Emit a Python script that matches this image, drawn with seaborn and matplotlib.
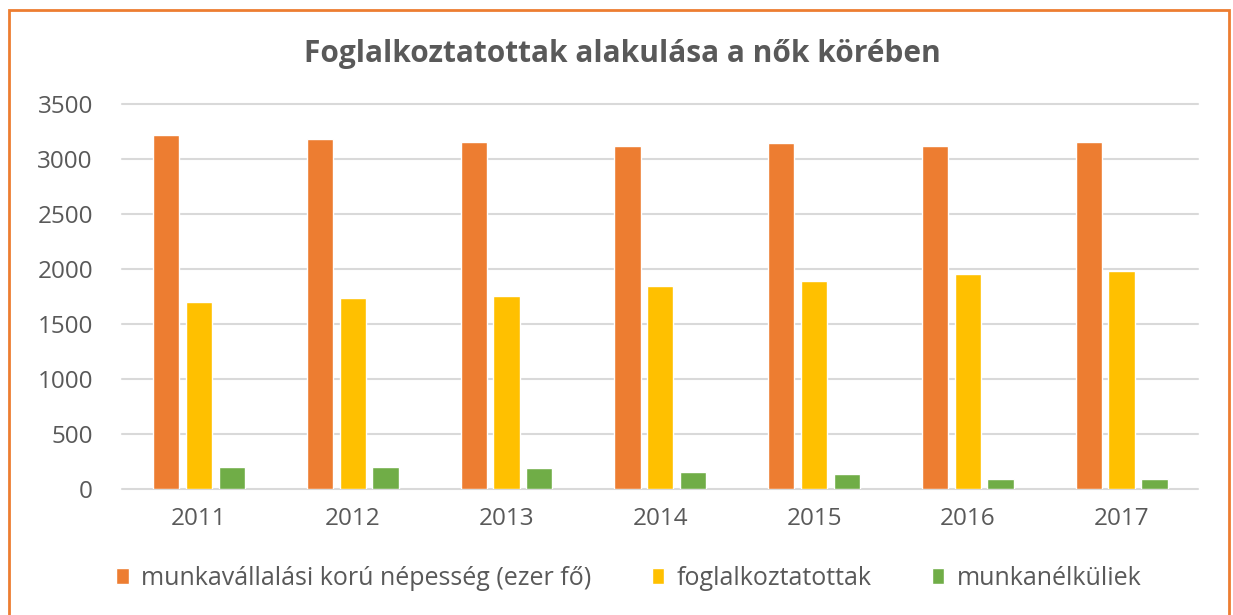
import pandas as pd
import matplotlib.pyplot as plt
import seaborn as sns
from matplotlib.patches import Rectangle

# Chart data (ezer fő)
years = ["2011", "2012", "2013", "2014", "2015", "2016", "2017"]
nepesseg = [3218, 3182, 3157, 3121, 3145, 3121, 3157]
foglalkoztatottak = [1696, 1733, 1757, 1848, 1894, 1954, 1978]
munkanelkuliek = [200, 200, 187, 157, 139, 91, 91]

series_names = ["munkavállalási korú népesség (ezer fő)", "foglalkoztatottak", "munkanélküliek"]
colors = ["#ED7D31", "#FFC000", "#70AD47"]
text_color = "#595959"

# Long format for seaborn
rows = []
for name, vals in zip(series_names, [nepesseg, foglalkoztatottak, munkanelkuliek]):
    for y, v in zip(years, vals):
        rows.append({"Év": y, "Sorozat": name, "Érték": v})
data = pd.DataFrame(rows)

sns.set_style("white")
plt.rcParams["font.family"] = ["Open Sans", "DejaVu Sans"]

fig = plt.figure(figsize=(12.33, 6.15), dpi=100)
ax = fig.add_axes([0.099, 0.205, 0.873, 0.626])

sns.barplot(data=data, x="Év", y="Érték", hue="Sorozat", palette=colors,
            width=0.64, gap=0.2, ax=ax, saturation=1, legend=True)

ax.set_ylim(0, 3500)
ax.set_yticks(range(0, 3501, 500))
ax.set_xlim(-0.5, len(years) - 0.5)
ax.yaxis.grid(True, color="#D9D9D9", linewidth=1.5, clip_on=False)
ax.set_axisbelow(True)
for s in ax.spines.values():
    s.set_visible(False)
ax.set_xlabel("")
ax.set_ylabel("")
ax.tick_params(axis="both", length=0, labelsize=17.5, labelcolor=text_color)
ax.tick_params(axis="y", pad=21)
ax.tick_params(axis="x", pad=13)

fig.text(0.505, 0.912, "Foglalkoztatottak alakulása a nők körében", ha="center", va="center",
         fontsize=21.5, fontweight="bold", color=text_color)

handles, labels = ax.get_legend_handles_labels()
ax.legend_.remove()
fig.legend(handles, labels, loc="center", bbox_to_anchor=(0.51, 0.06), ncol=3, frameon=False,
           fontsize=18, labelcolor=text_color, handlelength=0.5, handleheight=0.6,
           handletextpad=0.5, columnspacing=2.4)

# orange frame around the chart
fig.patches.append(Rectangle((0.007, -0.05), 0.99, 1.033, transform=fig.transFigure,
                             fill=False, edgecolor="#ED7D31", linewidth=2))

plt.savefig("out.png", dpi=100)
